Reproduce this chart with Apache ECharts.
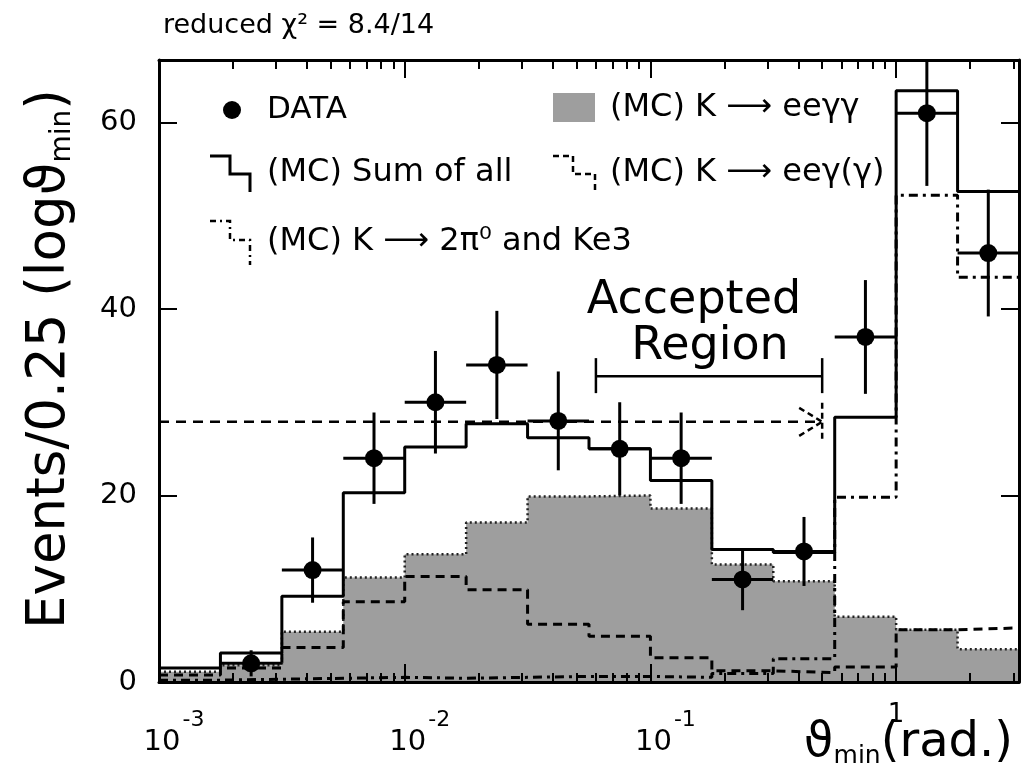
<!DOCTYPE html>
<html><head><meta charset="utf-8">
<script src="https://cdn.jsdelivr.net/npm/echarts@6/dist/echarts.min.js"></script>
<style>html,body{margin:0;padding:0;background:#fff}#c{width:1023px;height:769px}</style>
</head><body><div id="c"></div>
<script>
// ---- data ----
const binEdgesLog = [-3,-2.75,-2.5,-2.25,-2,-1.75,-1.5,-1.25,-1,-0.75,-0.5,-0.25,0,0.25,0.5];
const dataCounts = [null,2,12,24,30,34,28,25,24,11,14,37,61,46];
const dataErrors = [null,1.4,3.5,4.9,5.5,5.8,5.3,5.0,4.9,3.3,3.7,6.1,7.8,6.8];
const mcSumAll  = [1.5,3.1,9.2,20.3,25.2,27.7,26.2,25.0,21.6,14.2,13.9,28.4,63.4,52.6];
const mcEeGG    = [1.1,1.8,5.4,11.2,13.7,17.1,19.9,20.0,18.6,12.6,10.8,7.0,5.6,3.5];
const mcEeGPlus = [0.75,1.5,3.7,8.6,11.3,9.9,6.2,4.9,2.6,1.2,1.0,1.6,5.6,5.8];
const mc2Pi0Ke3 = [0.2,0.3,0.4,0.5,0.4,0.5,0.6,0.6,0.5,0.9,2.5,19.8,52.2,43.4];
const xMajorTicks = [0.001,0.01,0.1,1];
const xMinorTicks = [0.002,0.003,0.004,0.005,0.006,0.007,0.008,0.009,
                     0.02,0.03,0.04,0.05,0.06,0.07,0.08,0.09,
                     0.2,0.3,0.4,0.5,0.6,0.7,0.8,0.9,2,3];
const xTickExponents = {'0.001':'-3','0.01':'-2','0.1':'-1'};
const yTicks = [0,20,40,60];
const yMax = 66.7;
const acceptedRange = [0.06, 0.5];
const acceptedLevel = 32.8;
const cutLevel = 27.9;
const titleText = 'reduced χ² = 8.4/14';

// ---- build ----
const FONT = "'DejaVu Sans', sans-serif";
const xMin = Math.pow(10, binEdgesLog[0]);
const xMax = Math.pow(10, binEdgesLog[binEdgesLog.length-1]);
function stepData(vals){
  return binEdgesLog.map((e,i)=>[Math.pow(10,e), vals[Math.min(i, vals.length-1)]]);
}
const pointData = [];
dataCounts.forEach((v,i)=>{
  if (v == null) return;
  const c = Math.pow(10,(binEdgesLog[i]+binEdgesLog[i+1])/2);
  pointData.push([c, v, v-dataErrors[i], v+dataErrors[i], Math.pow(10,binEdgesLog[i]), Math.pow(10,binEdgesLog[i+1])]);
});

const chart = echarts.init(document.getElementById('c'));
const axisCommonX = {type:'log', logBase:10, min:xMin, max:xMax, gridIndex:0, splitLine:{show:false}, z:5};
const GRAY = '#9e9e9e';
const option = {
  backgroundColor:'#fff',
  animation:false,
  grid:{left:159, right:4, top:60, bottom:87, show:false},
  xAxis:[
    Object.assign({}, axisCommonX, {position:'bottom',
      axisLine:{show:true, lineStyle:{color:'#000', width:3}},
      axisTick:{show:true, inside:true, length:18, customValues:xMajorTicks, lineStyle:{color:'#000', width:2}},
      axisLabel:{show:true, customValues:xMajorTicks, margin:14, color:'#000', fontFamily:FONT,
        formatter:(v)=>{
          const key = String(+v.toPrecision(6));
          if (xTickExponents[key] !== undefined) return '{p|}{b|10}{e|'+xTickExponents[key]+'}';
          return '{one|1}';
        },
        rich:{
          p:{width:30},
          b:{fontSize:29, fontFamily:FONT, color:'#000', padding:[30,0,0,0]},
          e:{fontSize:22, fontFamily:FONT, color:'#000', padding:[13,0,27,2]},
          one:{fontSize:26, fontFamily:FONT, color:'#000', padding:[6,0,24,0]}
        }
      }}),
    Object.assign({}, axisCommonX, {position:'bottom',
      axisLine:{show:false}, axisLabel:{show:false},
      axisTick:{show:true, inside:true, length:9, customValues:xMinorTicks, lineStyle:{color:'#000', width:2}}}),
    Object.assign({}, axisCommonX, {position:'top',
      axisLine:{show:true, lineStyle:{color:'#000', width:3}}, axisLabel:{show:false},
      axisTick:{show:true, inside:true, length:18, customValues:xMajorTicks, lineStyle:{color:'#000', width:2}}}),
    Object.assign({}, axisCommonX, {position:'top',
      axisLine:{show:false}, axisLabel:{show:false},
      axisTick:{show:true, inside:true, length:9, customValues:xMinorTicks, lineStyle:{color:'#000', width:2}}})
  ],
  yAxis:[
    {type:'value', min:0, max:yMax, position:'left', z:5, splitLine:{show:false},
     axisLine:{show:true, lineStyle:{color:'#000', width:3}},
     axisTick:{show:true, inside:true, length:18, customValues:yTicks, lineStyle:{color:'#000', width:2}},
     axisLabel:{show:true, customValues:yTicks, margin:22, color:'#000', fontSize:29, fontFamily:FONT}},
    {type:'value', min:0, max:yMax, position:'right', z:5, splitLine:{show:false},
     axisLine:{show:true, lineStyle:{color:'#000', width:3}},
     axisTick:{show:true, inside:true, length:18, customValues:yTicks, lineStyle:{color:'#000', width:2}},
     axisLabel:{show:false}}
  ],
  series:[
    {name:'(MC) K → eeγγ', type:'line', step:'end', data:stepData(mcEeGG), symbol:'none', z:2,
     lineStyle:{color:'#222', width:2.5, type:[2,3]}, areaStyle:{color:GRAY, opacity:1}},
    {name:'(MC) K → eeγ(γ)', type:'line', step:'end', data:stepData(mcEeGPlus), symbol:'none', z:3,
     lineStyle:{color:'#000', width:3, type:[9,6]}},
    {name:'(MC) K → 2π0 and Ke3', type:'line', step:'end', data:stepData(mc2Pi0Ke3), symbol:'none', z:3,
     lineStyle:{color:'#000', width:3, type:[9,5,3,5]}},
    {name:'(MC) Sum of all', type:'line', step:'end', data:stepData(mcSumAll), symbol:'none', z:4,
     lineStyle:{color:'#000', width:3}},
    {name:'DATA', type:'custom', z:6, clip:true, data:pointData,
     encode:{x:[0,4,5], y:[1,2,3]},
     renderItem:(params, api)=>{
       const c = api.coord([api.value(0), api.value(1)]);
       const lo = api.coord([api.value(0), api.value(2)]);
       const hi = api.coord([api.value(0), api.value(3)]);
       const l = api.coord([api.value(4), api.value(1)]);
       const r = api.coord([api.value(5), api.value(1)]);
       const st = {stroke:'#000', lineWidth:3};
       return {type:'group', children:[
         {type:'line', shape:{x1:c[0],y1:lo[1],x2:c[0],y2:hi[1]}, style:st},
         {type:'line', shape:{x1:l[0],y1:c[1],x2:r[0],y2:c[1]}, style:st},
         {type:'circle', shape:{cx:c[0],cy:c[1],r:9}, style:{fill:'#000'}}
       ]};
     }},
    {name:'accepted', type:'custom', z:6, clip:true,
     data:[[acceptedRange[0], acceptedRange[1], acceptedLevel, cutLevel]],
     renderItem:(params, api)=>{
       const a = api.coord([api.value(0), api.value(2)]);
       const b = api.coord([api.value(1), api.value(2)]);
       const c = api.coord([api.value(1), api.value(3)]);
       const x0 = params.coordSys.x;
       const st = {stroke:'#000', lineWidth:2.5};
       const ds = {stroke:'#000', lineWidth:2.5, lineDash:[10,7]};
       const ds2 = {stroke:'#000', lineWidth:2.5, lineDash:[6,4]};
       return {type:'group', children:[
         {type:'line', shape:{x1:a[0],y1:a[1],x2:b[0],y2:b[1]}, style:st},
         {type:'line', shape:{x1:a[0],y1:a[1]-18,x2:a[0],y2:a[1]+17}, style:st},
         {type:'line', shape:{x1:b[0],y1:b[1]-18,x2:b[0],y2:b[1]+17}, style:st},
         {type:'line', shape:{x1:x0,y1:c[1],x2:c[0]-6,y2:c[1]}, style:ds},
         {type:'line', shape:{x1:c[0]-23,y1:c[1]-14,x2:c[0],y2:c[1]}, style:ds2},
         {type:'line', shape:{x1:c[0]-23,y1:c[1]+14,x2:c[0],y2:c[1]}, style:ds2},
         {type:'line', shape:{x1:c[0],y1:c[1]-19,x2:c[0],y2:c[1]+20}, style:ds2}
       ]};
     }}
  ],
  graphic:[
    {type:'text', left:163, top:12, style:{text:titleText, font:'27px '+FONT, fill:'#000'}},
    {type:'text', x:50, y:359, rotation:Math.PI/2,
     style:{text:'{a|Events/0.25 (logϑ}{s|min}{a|)}', align:'center', verticalAlign:'middle',
       rich:{a:{fontSize:53, fontFamily:FONT, fill:'#000'}, s:{fontSize:28, fontFamily:FONT, fill:'#000', padding:[26,0,0,0]}}}},
    {type:'text', x:1013, y:744,
     style:{text:'{a|ϑ}{s|min}{a|(rad.)}', align:'right', verticalAlign:'middle',
       rich:{a:{fontSize:48, fontFamily:FONT, fill:'#000'}, s:{fontSize:25, fontFamily:FONT, fill:'#000', padding:[24,0,0,0]}}}},
    // Accepted region text
    {type:'text', x:694, y:301, style:{text:'Accepted', align:'center', verticalAlign:'middle', font:'46px '+FONT, fill:'#000'}},
    {type:'text', x:710, y:347, style:{text:'Region', align:'center', verticalAlign:'middle', font:'46px '+FONT, fill:'#000'}},
    // legend
    {type:'circle', shape:{cx:232, cy:110, r:9}, style:{fill:'#000'}},
    {type:'text', x:267, y:110, style:{text:'DATA', verticalAlign:'middle', font:'31px '+FONT, fill:'#000'}},
    {type:'polyline', shape:{points:[[210,156],[230,156],[230,174],[250,174],[250,192]]}, style:{stroke:'#000', lineWidth:3, fill:null}},
    {type:'text', x:267, y:173, style:{text:'(MC) Sum of all', verticalAlign:'middle', font:'32px '+FONT, fill:'#000'}},
    {type:'polyline', shape:{points:[[210,221],[230,221],[230,240],[250,240],[250,265]]}, style:{stroke:'#000', lineWidth:2.5, fill:null, lineDash:[6,4,2,4]}},
    {type:'text', x:267, y:242, style:{text:'(MC) K ⟶ 2π⁰ and Ke3', verticalAlign:'middle', font:'32px '+FONT, fill:'#000'}},
    {type:'rect', shape:{x:553, y:93, width:42, height:29}, style:{fill:GRAY}},
    {type:'text', x:610, y:108, style:{text:'(MC) K ⟶ eeγγ', verticalAlign:'middle', font:'32px '+FONT, fill:'#000'}},
    {type:'polyline', shape:{points:[[553,156],[573,156],[573,174],[595,174],[595,192]]}, style:{stroke:'#000', lineWidth:2.5, fill:null, lineDash:[6,4]}},
    {type:'text', x:610, y:173, style:{text:'(MC) K ⟶ eeγ(γ)', verticalAlign:'middle', font:'32px '+FONT, fill:'#000'}}
  ]
};
chart.setOption(option);
</script></body></html>
